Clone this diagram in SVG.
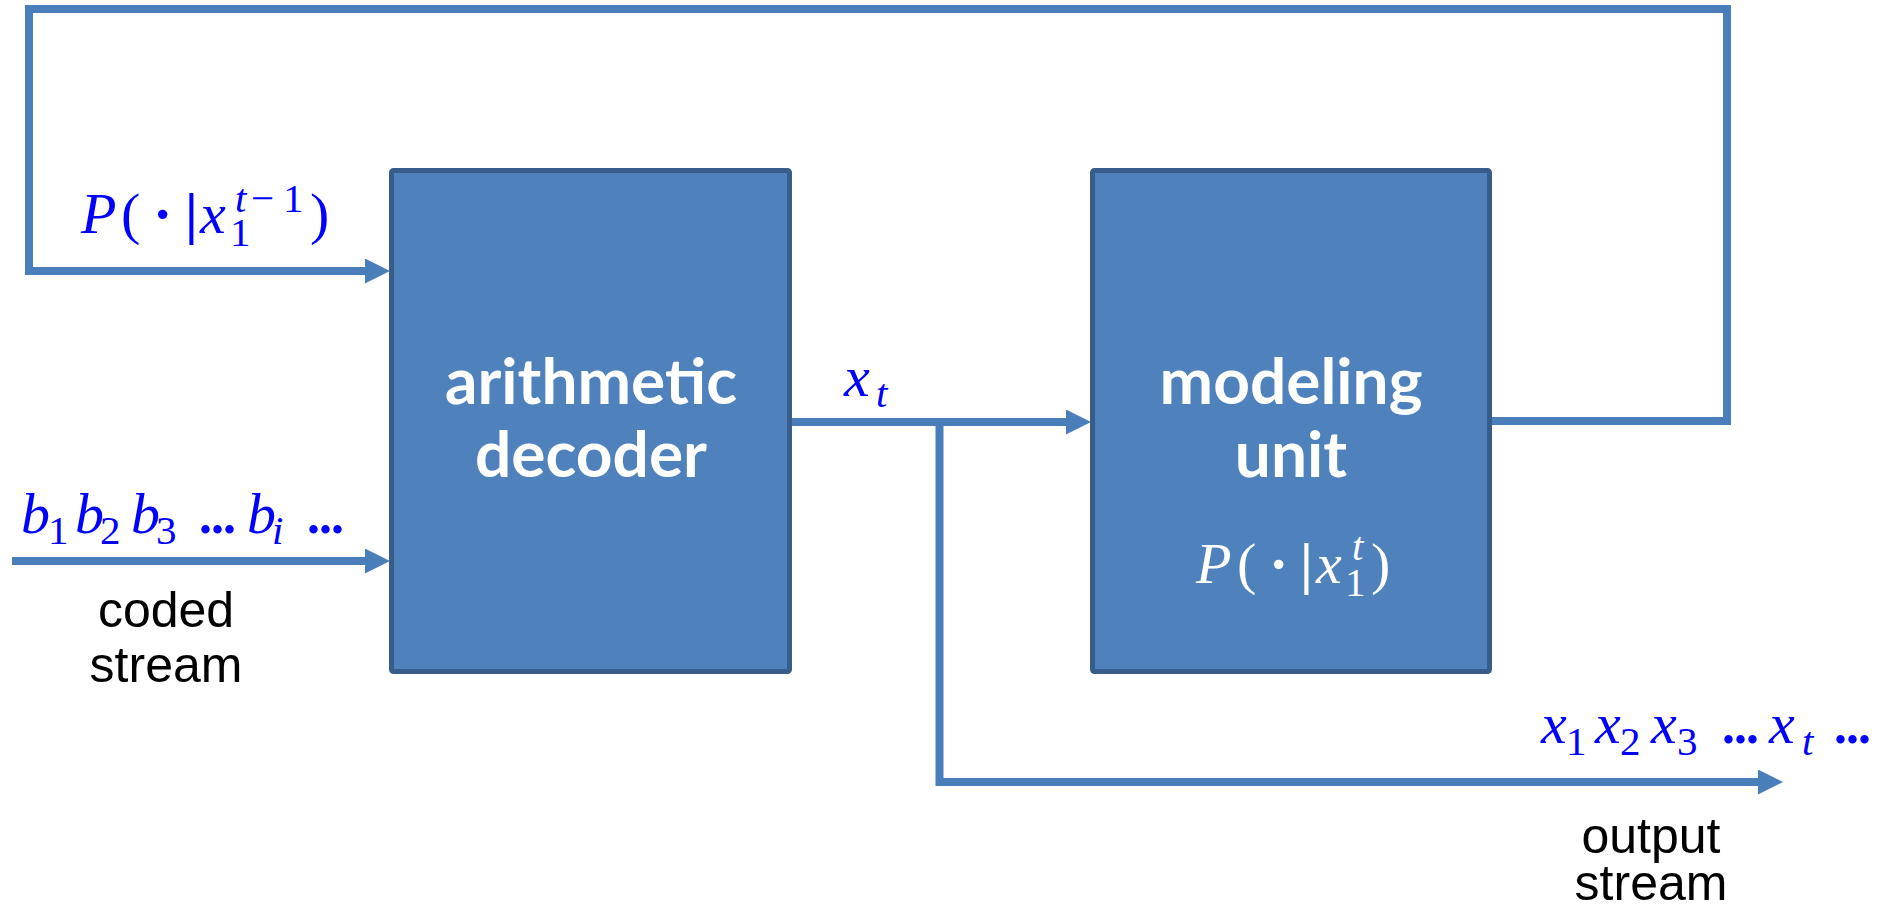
<svg xmlns="http://www.w3.org/2000/svg" width="1893" height="913" viewBox="0 0 1893 913">
  <defs>
    <style>
      .wire { fill: none; stroke: #4A7EBB; stroke-width: 8; stroke-linejoin: miter; stroke-linecap: butt; }
      .block { fill: #4F81BD; stroke: #385D8A; stroke-width: 5; }
      .title { font-family: Lato, "Open Sans", "Liberation Sans", sans-serif; font-weight: bold; font-size: 64px; fill: #FFFFFF; text-anchor: middle; }
      .caption { font-family: "Liberation Sans", Arial, sans-serif; font-size: 50px; fill: #000000; text-anchor: middle; }
      .math { font-family: "Liberation Serif", "Times New Roman", serif; font-size: 58px; fill: #0000FF; }
      .math.white { fill: #FFFFFF; }
      .it { font-style: italic; }
      .sm { font-size: 41px; }
      .bold { font-weight: bold; }
      .dots { font-weight: bold; font-size: 52px; letter-spacing: -1px; }
    </style>
    <marker id="arrow" markerUnits="userSpaceOnUse" markerWidth="25" markerHeight="25" refX="5" refY="12.5" orient="auto">
      <path d="M0,0 L25,12.5 L0,25 Z" fill="#4A7EBB"/>
    </marker>
  </defs>

  <rect width="1893" height="913" fill="#FFFFFF"/>

  <!-- connectors -->
  <g id="connectors">
    <!-- feedback: modeling unit output back to decoder's probability input -->
    <path class="wire" d="M1492,421 H1727 V9 H29 V271 H370" marker-end="url(#arrow)"/>
    <!-- coded bit stream into the decoder -->
    <path class="wire" d="M12,561 H370" marker-end="url(#arrow)"/>
    <!-- decoded symbol into the modeling unit -->
    <path class="wire" d="M792,422 H1071" marker-end="url(#arrow)"/>
    <!-- branch to the output stream -->
    <path class="wire" d="M939.5,422 V782 H1763" marker-end="url(#arrow)"/>
  </g>

  <!-- arithmetic decoder -->
  <g id="decoder">
    <rect class="block" x="391.5" y="170.5" width="398" height="501" rx="2"/>
    <text class="title" x="591" y="404">arithmetic</text>
    <text class="title" x="591" y="477">decoder</text>
  </g>

  <!-- modeling unit -->
  <g id="modeling">
    <rect class="block" x="1092.5" y="170.5" width="397" height="501" rx="2"/>
    <text class="title" x="1291" y="404">modeling</text>
    <text class="title" x="1291" y="477">unit</text>
    <text class="math white">
      <tspan class="it" x="1196" y="583">P</tspan>
      <tspan x="1237" y="583">(</tspan>
      <tspan class="bold" x="1269" y="583">·</tspan>
      <tspan class="bold" x="1300" y="583">|</tspan>
      <tspan class="it" x="1316" y="583">x</tspan>
      <tspan class="it sm" x="1352" y="560">t</tspan>
      <tspan class="sm" x="1345" y="596">1</tspan>
      <tspan x="1371" y="583">)</tspan>
    </text>
  </g>

  <!-- probability input label -->
  <g id="label-prob">
    <text class="math">
      <tspan class="it" x="81" y="233">P</tspan>
      <tspan x="121" y="233">(</tspan>
      <tspan class="bold" x="153" y="233">·</tspan>
      <tspan class="bold" x="185" y="233">|</tspan>
      <tspan class="it" x="200" y="233">x</tspan>
      <tspan class="it sm" x="235" y="212">t</tspan>
      <tspan class="sm" x="251" y="212">−</tspan>
      <tspan class="sm" x="283" y="212">1</tspan>
      <tspan class="sm" x="230" y="246">1</tspan>
      <tspan x="310" y="233">)</tspan>
    </text>
  </g>

  <!-- coded stream label -->
  <g id="label-coded">
    <text class="math">
      <tspan class="it" x="21" y="533">b</tspan>
      <tspan class="sm" x="48" y="544">1</tspan>
      <tspan class="it" x="75" y="533">b</tspan>
      <tspan class="sm" x="100" y="544">2</tspan>
      <tspan class="it" x="131" y="533">b</tspan>
      <tspan class="sm" x="156" y="544">3</tspan>
      <tspan class="dots" x="199" y="533">...</tspan>
      <tspan class="it" x="247" y="533">b</tspan>
      <tspan class="it sm" x="272" y="544">i</tspan>
      <tspan class="dots" x="307" y="533">...</tspan>
    </text>
    <text class="caption" x="166" y="627">coded</text>
    <text class="caption" x="166" y="682">stream</text>
  </g>

  <!-- decoded symbol label -->
  <g id="label-xt">
    <text class="math">
      <tspan class="it" x="844" y="396">x</tspan>
      <tspan class="it sm" x="876" y="407">t</tspan>
    </text>
  </g>

  <!-- output stream label -->
  <g id="label-output">
    <text class="math">
      <tspan class="it" x="1541" y="743">x</tspan>
      <tspan class="sm" x="1566" y="755">1</tspan>
      <tspan class="it" x="1595" y="743">x</tspan>
      <tspan class="sm" x="1620" y="755">2</tspan>
      <tspan class="it" x="1651" y="743">x</tspan>
      <tspan class="sm" x="1677" y="755">3</tspan>
      <tspan class="dots" x="1722" y="743">...</tspan>
      <tspan class="it" x="1769" y="743">x</tspan>
      <tspan class="it sm" x="1802" y="755">t</tspan>
      <tspan class="dots" x="1834" y="743">...</tspan>
    </text>
    <text class="caption" x="1651" y="853">output</text>
    <text class="caption" x="1651" y="900">stream</text>
  </g>
</svg>
